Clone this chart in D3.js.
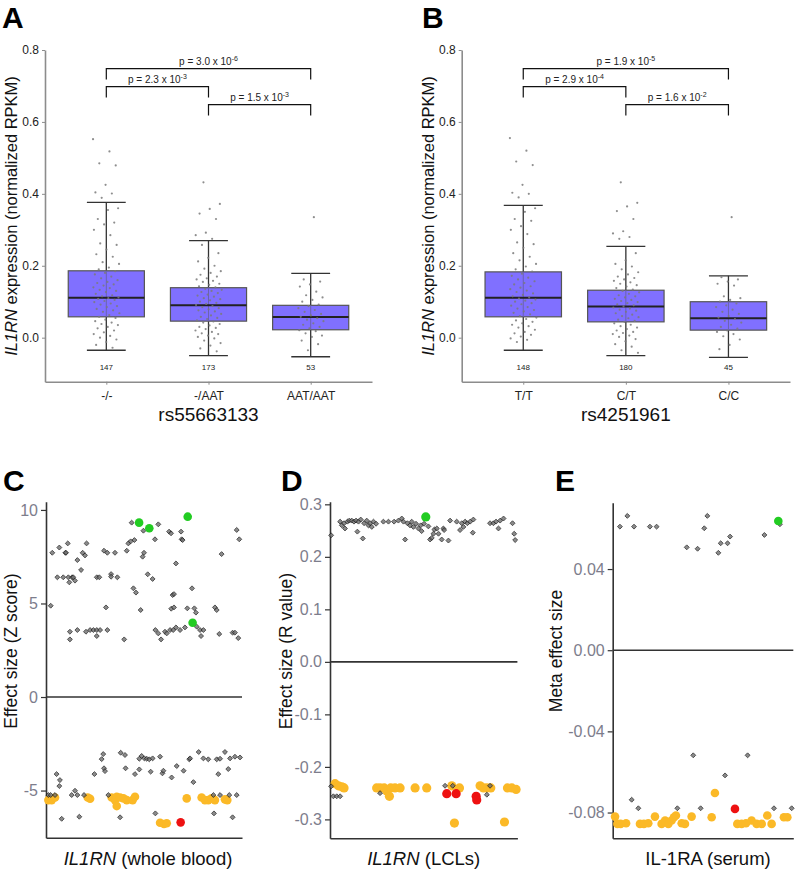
<!DOCTYPE html>
<html><head><meta charset="utf-8">
<script src="https://cdn.jsdelivr.net/npm/d3@7/dist/d3.min.js"></script>
<style>
body{margin:0;background:#fff}
text{font-family:"Liberation Sans",Arial,sans-serif}
</style></head>
<body><svg id="chart" width="800" height="872"></svg>
<script>
// ---------------- DATA ----------------
// Panel A (rs55663133)
const genoA = ["-/-", "-/AAT", "AAT/AAT"];
const nA = [147, 173, 53];
// [lower whisker, q1, median, q3, upper whisker]
const boxA = [
  [-0.035, 0.058, 0.111, 0.186, 0.376],
  [-0.050, 0.046, 0.090, 0.139, 0.270],
  [-0.053, 0.022, 0.0575, 0.090, 0.179]
];
const pointsA1 = [0.552,0.518,0.485,0.479,0.425,0.404,0.401,0.389,0.36,0.355,0.33,0.32,0.315,0.30,0.285,0.262,0.258,0.245,0.232,0.225,0.21,0.205,0.195,0.19,0.185,0.18,0.176,0.17,0.165,0.16,0.155,0.152,0.148,0.145,0.14,0.138,0.133,0.13,0.127,0.122,0.118,0.115,0.112,0.11,0.108,0.105,0.102,0.099,0.095,0.092,0.088,0.085,0.08,0.076,0.072,0.068,0.063,0.058,0.055,0.05,0.046,0.042,0.038,0.035,0.03,0.026,0.02,0.015,0.01,0.005,0.0,-0.005,-0.012,-0.02,-0.028];
const pointsA2 = [0.432,0.372,0.358,0.345,0.33,0.292,0.285,0.275,0.258,0.235,0.222,0.212,0.2,0.192,0.185,0.18,0.175,0.17,0.165,0.162,0.158,0.155,0.15,0.147,0.143,0.14,0.136,0.133,0.13,0.127,0.124,0.12,0.117,0.114,0.11,0.107,0.104,0.1,0.097,0.094,0.091,0.088,0.085,0.082,0.079,0.076,0.073,0.07,0.066,0.062,0.058,0.055,0.052,0.048,0.045,0.042,0.038,0.034,0.03,0.027,0.024,0.02,0.016,0.012,0.01,0.006,0.002,-0.002,-0.008,-0.015,-0.022,-0.03,-0.038];
const pointsA3 = [0.335,0.162,0.156,0.148,0.142,0.128,0.118,0.112,0.105,0.1,0.092,0.088,0.082,0.077,0.072,0.066,0.062,0.058,0.054,0.05,0.046,0.04,0.036,0.03,0.026,0.021,0.018,0.012,0.006,0.002,-0.008,-0.018,-0.035];
const pvalA = [
  {from:1, to:3, level:0.748, mant:"3.0", exp:"-6"},
  {from:1, to:2, level:0.698, mant:"2.3", exp:"-3"},
  {from:2, to:3, level:0.648, mant:"1.5", exp:"-3"}
];

// Panel B (rs4251961)
const genoB = ["T/T", "C/T", "C/C"];
const nB = [148, 180, 45];
const boxB = [
  [-0.035, 0.058, 0.111, 0.183, 0.368],
  [-0.050, 0.044, 0.087, 0.132, 0.254],
  [-0.055, 0.021, 0.054, 0.100, 0.172]
];
const pointsB1 = [0.555,0.52,0.49,0.48,0.425,0.403,0.4,0.39,0.36,0.35,0.33,0.325,0.31,0.3,0.288,0.265,0.26,0.25,0.235,0.225,0.215,0.205,0.198,0.19,0.184,0.178,0.172,0.167,0.162,0.157,0.152,0.148,0.143,0.139,0.135,0.131,0.127,0.123,0.119,0.115,0.112,0.109,0.106,0.103,0.1,0.096,0.093,0.089,0.085,0.081,0.077,0.073,0.069,0.065,0.06,0.056,0.052,0.048,0.044,0.04,0.036,0.032,0.028,0.022,0.016,0.012,0.008,0.003,-0.002,-0.006,-0.012];
const pointsB2 = [0.432,0.375,0.365,0.352,0.33,0.296,0.29,0.28,0.275,0.235,0.215,0.205,0.198,0.19,0.182,0.176,0.17,0.166,0.162,0.158,0.154,0.15,0.146,0.142,0.138,0.134,0.13,0.126,0.122,0.118,0.115,0.112,0.108,0.105,0.102,0.099,0.096,0.093,0.09,0.087,0.084,0.081,0.078,0.075,0.072,0.068,0.064,0.06,0.057,0.054,0.05,0.047,0.044,0.04,0.036,0.032,0.028,0.024,0.02,0.016,0.013,0.01,0.006,0.002,-0.004,-0.01,-0.018,-0.025,-0.035,-0.042];
const pointsB3 = [0.335,0.168,0.162,0.156,0.15,0.145,0.115,0.11,0.105,0.1,0.095,0.09,0.085,0.078,0.072,0.066,0.06,0.056,0.052,0.047,0.042,0.036,0.03,0.025,0.02,0.016,0.01,0.004,-0.005,-0.02,-0.032];
const pvalB = [
  {from:1, to:3, level:0.748, mant:"1.9", exp:"-5"},
  {from:1, to:2, level:0.698, mant:"2.9", exp:"-4"},
  {from:2, to:3, level:0.648, mant:"1.6", exp:"-2"}
];
const ticksAB = [0, 0.2, 0.4, 0.6, 0.8];

// Panel C: IL1RN (whole blood), [relative position, Z score]
const cBlack = [[2.4,4.88],[3.2,7.71],[6.8,7.99],[9.9,7.71],[11.1,8.21],[10.2,7.71],[5.8,6.40],[8.8,6.40],[11.4,6.40],[11.9,6.13],[13.3,6.40],[13.9,6.40],[14.8,6.22],[16.0,7.32],[17.9,6.79],[18.7,7.71],[19.9,7.57],[20.7,8.21],[12.2,3.49],[12.2,3.08],[16.0,3.58],[20.4,3.49],[22.5,3.58],[24.2,3.58],[25.9,3.58],[27.6,3.58],[25.9,3.26],[30.6,4.79],[31.3,3.58],[25.9,6.40],[27.2,6.40],[33.2,6.57],[33.2,6.43],[36.4,6.40],[29.6,7.82],[31.3,7.71],[35.2,7.71],[41.2,7.82],[42.0,8.21],[43.2,8.32],[45.1,8.39],[39.9,3.08],[44.6,5.81],[45.9,5.58],[48.3,4.65],[43.7,9.32],[49.3,7.50],[50.0,7.71],[51.9,6.56],[54.4,6.31],[55.6,8.43],[57.3,9.23],[49.7,8.89],[55.8,3.58],[57.3,3.40],[58.7,3.08],[60.7,3.49],[61.6,3.40],[63.3,3.58],[64.9,3.58],[62.8,8.84],[63.8,8.75],[64.6,5.45],[65.3,5.50],[66.3,7.14],[63.9,4.72],[65.3,4.79],[68.9,8.84],[69.2,8.43],[69.7,8.39],[66.3,3.72],[68.4,3.58],[70.9,3.72],[72.1,4.74],[74.5,5.81],[75.7,4.74],[76.5,4.51],[76.9,3.76],[78.6,3.58],[79.1,3.26],[80.3,3.58],[88.4,3.37],[89.6,7.64],[86.2,4.79],[87.1,4.65],[95.2,3.44],[96.4,3.44],[97.3,8.93],[98.6,8.43],[98.1,3.15],
  [1.2,-5.24],[2.4,-5.24],[4.6,-5.24],[5.4,-4.12],[7.1,-4.44],[6.8,-4.76],[8.0,-6.51],[13.1,-5.24],[14.8,-5.01],[16.0,-5.24],[19.4,-5.24],[17.0,-6.40],[24.7,-4.12],[28.4,-3.32],[29.2,-3.05],[29.6,-3.81],[30.1,-3.96],[31.8,-5.24],[37.8,-6.43],[38.1,-2.98],[40.3,-3.10],[40.6,-3.81],[45.4,-4.12],[47.6,-3.87],[47.6,-3.30],[48.8,-3.15],[50.2,-3.28],[51.4,-3.30],[52.7,-3.33],[54.4,-3.28],[58.2,-3.19],[53.4,-3.99],[55.8,-6.22],[59.4,-4.08],[59.9,-3.94],[64.1,-4.30],[66.7,-3.69],[70.2,-3.94],[73.1,-3.33],[73.5,-3.28],[75.2,-4.55],[77.9,-2.94],[80.3,-3.28],[82.8,-3.33],[87.1,-3.33],[88.8,-3.30],[91.3,-2.94],[87.9,-4.12],[93.0,-3.85],[93.9,-3.28],[96.4,-3.19],[99.0,-3.23],[85.4,-5.24],[88.8,-5.24],[93.5,-5.24],[97.3,-5.24],[85.7,-6.22],[95.2,-6.43]];
const cYellow = [[1.2,-5.51],[2.9,-5.51],[4.6,-5.37],[21.3,-5.37],[22.5,-5.44],[33.5,-5.37],[35.2,-5.51],[36.1,-5.83],[36.1,-5.33],[37.8,-5.37],[39.5,-5.42],[41.2,-5.51],[44.2,-5.51],[45.4,-5.33],[58.2,-6.72],[60.2,-6.79],[61.6,-6.75],[71.8,-5.42],[79.4,-5.37],[81.1,-5.51],[82.8,-5.51],[84.5,-5.42],[86.2,-5.51],[91.3,-5.47],[92.5,-5.51]];
const cGreen = [[47.5,9.32],[52.7,9.02],[72.3,9.64],[74.8,3.97]];
const cRed = [[68.7,-6.70]];
const ticksC = [-5, 0, 5, 10];

// Panel D: IL1RN (LCLs), [relative position, R value]
const dBlack = [[0.6,0.241],[5.4,0.267],[6.3,0.260],[7.5,0.264],[8.0,0.254],[9.3,0.267],[10.3,0.269],[11.6,0.269],[12.8,0.267],[13.9,0.269],[14.6,0.248],[15.2,0.267],[16.4,0.271],[17.5,0.235],[18.2,0.264],[19.6,0.269],[20.5,0.260],[21.4,0.264],[22.3,0.257],[23.2,0.267],[24.6,0.263],[28.5,0.267],[31.2,0.267],[34.2,0.267],[36.5,0.269],[38.3,0.273],[39.2,0.267],[40.1,0.233],[41.3,0.264],[42.7,0.260],[43.6,0.267],[44.5,0.257],[45.9,0.263],[47.2,0.254],[48.4,0.260],[48.9,0.249],[50.2,0.263],[52.5,0.258],[53.4,0.233],[54.3,0.236],[55.2,0.244],[55.7,0.252],[57.0,0.254],[57.9,0.244],[59.6,0.233],[60.5,0.254],[60.9,0.251],[63.2,0.231],[64.1,0.269],[67.6,0.267],[69.4,0.251],[70.3,0.264],[71.2,0.257],[72.1,0.267],[73.3,0.264],[74.8,0.267],[76.5,0.271],[76.2,0.246],[85.4,0.264],[87.2,0.264],[88.6,0.267],[89.9,0.254],[90.8,0.269],[92.6,0.273],[97.4,0.264],[98.3,0.244],[98.8,0.232],
  [0.6,-0.237],[1.8,-0.256],[3.6,-0.256],[5.4,-0.256],[26.7,-0.250],[61.4,-0.236],[65.5,-0.236],[85.4,-0.236],[83.7,-0.253]];
const dYellow = [[2.7,-0.232],[4.5,-0.236],[6.3,-0.238],[7.5,-0.240],[24.9,-0.240],[26.7,-0.240],[28.9,-0.240],[30.3,-0.246],[31.7,-0.256],[32.4,-0.240],[34.7,-0.240],[37.4,-0.240],[45.4,-0.240],[51.6,-0.240],[65.0,-0.236],[69.1,-0.240],[66.4,-0.307],[80.1,-0.236],[81.9,-0.240],[83.7,-0.240],[85.8,-0.240],[93.1,-0.305],[94.7,-0.240],[97.0,-0.240],[99.3,-0.243]];
const dGreen = [[51.1,0.276]];
const dRed = [[62.3,-0.251],[67.3,-0.251],[78.0,-0.256],[78.3,-0.263]];
const ticksD = [-0.3, -0.2, -0.1, 0.0, 0.1, 0.2, 0.3];

// Panel E: IL-1RA (serum), [relative position, meta effect size]
const eBlack = [[4.0,0.0609],[8.1,0.0662],[11.8,0.0609],[20.6,0.0609],[24.3,0.0609],[41.0,0.0507],[47.0,0.0500],[50.7,0.0601],[52.4,0.0662],[58.5,0.0480],[59.8,0.0527],[63.6,0.0527],[65.0,0.0560],[84.0,0.0568],[92.6,0.0621],
  [10.5,-0.0737],[14.2,-0.0779],[35.8,-0.0779],[44.6,-0.0518],[48.7,-0.0779],[62.2,-0.0617],[74.7,-0.0518],[89.3,-0.0779],[99.1,-0.0779]];
const eYellow = [[1.3,-0.0820],[2.6,-0.0856],[4.4,-0.0856],[7.4,-0.0853],[15.1,-0.0856],[17.3,-0.0856],[19.7,-0.0853],[23.4,-0.0820],[27.1,-0.0856],[29.0,-0.0839],[30.8,-0.0856],[32.6,-0.0839],[33.9,-0.0823],[35.0,-0.0815],[38.2,-0.0853],[40.0,-0.0856],[43.7,-0.0820],[54.8,-0.0823],[56.6,-0.0704],[69.0,-0.0856],[71.4,-0.0856],[73.8,-0.0853],[76.9,-0.0839],[79.7,-0.0856],[82.5,-0.0856],[85.6,-0.0815],[88.0,-0.0856],[94.8,-0.0823],[96.7,-0.0823]];
const eGreen = [[91.7,0.0637]];
const eRed = [[67.7,-0.0782]];
const ticksE = [-0.08, -0.04, 0.00, 0.04];

// ---------------- DRAWING ----------------
const svg = d3.select("#chart");
const BOXFILL = "#8070ff", YEL = "#fbb927", GRN = "#22cc22", RED = "#ee1111";
const hy = s => s.replace(/\u2212/g, "-");

function panelLabel(t, x, y){
  svg.append("text").attr("x", x).attr("y", y).attr("font-size", 30).attr("font-weight", "bold").attr("fill", "#000").text(t);
}

function boxPanel(o){
  const g = svg.append("g");
  const x = d3.scaleLinear().domain([0.4, 3.6]).range([o.x0, o.x1]);
  const y = d3.scaleLinear().domain([-0.1224, 0.8]).range([381.7, 50]);
  const yAx = g.append("g").attr("transform", `translate(${o.x0},0)`)
    .call(d3.axisLeft(y).tickValues(ticksAB).tickFormat(d3.format(".1f")).tickSize(3).tickSizeOuter(0));
  const xAx = g.append("g").attr("transform", `translate(0,381.7)`)
    .call(d3.axisBottom(x).tickValues([1,2,3]).tickFormat(i => o.geno[i-1]).tickSize(3).tickSizeOuter(0));
  [yAx, xAx].forEach(a => {
    a.select(".domain").attr("stroke", "#8c8c8c").attr("stroke-width", 1.6);
    a.selectAll(".tick line").attr("stroke", "#8c8c8c");
    a.selectAll(".tick text").attr("font-size", 12).attr("fill", "#222").attr("font-family", "Liberation Sans, Arial, sans-serif");
  });
  xAx.selectAll(".tick text").attr("dy", "1.05em");
  const bw = 0.745, cw = 0.38;
  o.box.forEach((b, i) => {
    const c = i + 1;
    [b[0], b[4]].forEach(v => g.append("line").attr("x1", x(c - cw/2)).attr("x2", x(c + cw/2))
      .attr("y1", y(v)).attr("y2", y(v)).attr("stroke", "#333").attr("stroke-width", 1.3));
    g.append("line").attr("x1", x(c)).attr("x2", x(c)).attr("y1", y(b[4])).attr("y2", y(b[3])).attr("stroke", "#333").attr("stroke-width", 1.3);
    g.append("line").attr("x1", x(c)).attr("x2", x(c)).attr("y1", y(b[1])).attr("y2", y(b[0])).attr("stroke", "#333").attr("stroke-width", 1.3);
    g.append("rect").attr("x", x(c - bw/2)).attr("width", x(c + bw/2) - x(c - bw/2))
      .attr("y", y(b[3])).attr("height", y(b[1]) - y(b[3]))
      .attr("fill", BOXFILL).attr("stroke", "#555").attr("stroke-width", 1.2);
    g.append("line").attr("x1", x(c)).attr("x2", x(c)).attr("y1", y(b[3])).attr("y2", y(b[1])).attr("stroke", "#6a62b0").attr("stroke-width", 1);
    g.append("line").attr("x1", x(c - bw/2)).attr("x2", x(c + bw/2)).attr("y1", y(b[2])).attr("y2", y(b[2])).attr("stroke", "#222").attr("stroke-width", 2);
    // jittered points (deterministic low-discrepancy spread)
    o.pts[i].forEach((v, k) => {
      const off = (((k * 0.618034 + i * 0.31) % 1) - 0.5) * 0.26;
      g.append("circle").attr("cx", x(c + off)).attr("cy", y(v)).attr("r", 1.1)
        .attr("fill", "#7a7a7a").attr("fill-opacity", 0.85);
    });
    g.append("text").attr("x", x(c)).attr("y", 369.5).attr("text-anchor", "middle").attr("font-size", 8).attr("fill", "#222").text(o.n[i]);
  });
  const drop = 0.03;
  o.pv.forEach(p => {
    const x1 = x(p.from), x2 = x(p.to);
    g.append("path").attr("d", `M${x1},${y(p.level - drop)}V${y(p.level)}H${x2}V${y(p.level - drop)}`)
      .attr("fill", "none").attr("stroke", "#111").attr("stroke-width", 1.2);
    const t = g.append("text").attr("x", (x1 + x2)/2).attr("y", y(p.level) - 4).attr("text-anchor", "middle")
      .attr("font-size", 10).attr("fill", "#222");
    t.append("tspan").text(`p = ${p.mant} x 10`);
    t.append("tspan").attr("dy", -4).attr("font-size", 7).text(p.exp);
  });
  const yt = g.append("text").attr("transform", `translate(${o.ytx},216) rotate(-90)`).attr("text-anchor", "middle")
    .attr("font-size", 16.5).attr("fill", "#111");
  yt.append("tspan").attr("font-style", "italic").text("IL1RN");
  yt.append("tspan").text(" expression (normalized RPKM)");
  g.append("text").attr("x", x(2)).attr("y", 421).attr("text-anchor", "middle").attr("font-size", 19).attr("fill", "#111").text(o.snp);
}

boxPanel({x0: 45, x1: 372, geno: genoA, n: nA, box: boxA, pts: [pointsA1, pointsA2, pointsA3], pv: pvalA, ytx: 17, snp: "rs55663133"});
boxPanel({x0: 461.7, x1: 790, geno: genoB, n: nB, box: boxB, pts: [pointsB1, pointsB2, pointsB3], pv: pvalB, ytx: 434, snp: "rs4251961"});
panelLabel("A", 2, 27.5);
panelLabel("B", 422, 27.5);

function scatterPanel(o){
  const g = svg.append("g");
  const x = d3.scaleLinear().domain([0, 100]).range([o.x0, o.x1]);
  const y = d3.scaleLinear().domain(o.ydom).range([o.yb, o.yt]);
  const yAx = g.append("g").attr("transform", `translate(${o.x0},0)`)
    .call(d3.axisLeft(y).tickValues(o.ticks).tickFormat(v => hy(d3.format(o.fmt)(v))).tickSize(5).tickSizeOuter(0).tickPadding(3));
  const xAx = g.append("g").attr("transform", `translate(0,${o.yb})`)
    .call(d3.axisBottom(x).tickValues([]).tickSizeOuter(0));
  [yAx, xAx].forEach(a => {
    a.select(".domain").attr("stroke", "#333").attr("stroke-width", 1.6);
    a.selectAll(".tick line").attr("stroke", "#333").attr("stroke-width", 1.2);
    a.selectAll(".tick text").attr("font-size", 16).attr("fill", "#7d7d8c").attr("font-family", "Liberation Sans, Arial, sans-serif");
  });
  g.append("line").attr("x1", o.x0).attr("x2", o.x1).attr("y1", y(0)).attr("y2", y(0)).attr("stroke", "#333").attr("stroke-width", 1.6);
  g.selectAll(".yel").data(o.yel).join("circle").attr("cx", d => x(d[0])).attr("cy", d => y(d[1])).attr("r", o.rc).attr("fill", YEL);
  const sq = d3.symbol().type(d3.symbolSquare).size(12);
  g.selectAll(".blk").data(o.blk).join("path").attr("d", sq)
    .attr("transform", d => `translate(${x(d[0])},${y(d[1])}) rotate(45)`)
    .attr("fill", "#6e6e6e").attr("stroke", "#1e1e1e").attr("stroke-width", 0.9).attr("opacity", 0.8);
  g.selectAll(".grn").data(o.grn).join("circle").attr("cx", d => x(d[0])).attr("cy", d => y(d[1])).attr("r", o.rc).attr("fill", GRN);
  g.selectAll(".red").data(o.red).join("circle").attr("cx", d => x(d[0])).attr("cy", d => y(d[1])).attr("r", o.rc).attr("fill", RED);
  g.append("text").attr("transform", `translate(${o.ytx},651) rotate(-90)`).attr("text-anchor", "middle")
    .attr("font-size", 17.5).attr("fill", "#111").text(o.ytitle);
  const xt = g.append("text").attr("x", (o.x0 + o.x1)/2 + o.xtOff).attr("y", 865).attr("text-anchor", "middle").attr("font-size", 18.5).attr("fill", "#111");
  if (o.italic) xt.append("tspan").attr("font-style", "italic").text(o.italic);
  xt.append("tspan").text(o.xtitle);
}

scatterPanel({x0: 46, x1: 242, ydom: [-7.52, 10.44], yb: 837.7, yt: 501.7, ticks: ticksC, fmt: "d",
  blk: cBlack, yel: cYellow, grn: cGreen, red: cRed, rc: 4.3, ytx: 17, ytitle: "Effect size (Z score)",
  italic: "IL1RN", xtitle: " (whole blood)", xtOff: 4});
scatterPanel({x0: 330, x1: 517.4, ydom: [-0.336, 0.305], yb: 838.3, yt: 501.7, ticks: ticksD, fmt: ".1f",
  blk: dBlack, yel: dYellow, grn: dGreen, red: dRed, rc: 4.6, ytx: 292, ytitle: "Effect size (R value)",
  italic: "IL1RN", xtitle: " (LCLs)", xtOff: 0});
scatterPanel({x0: 612.7, x1: 793.3, ydom: [-0.0927, 0.0727], yb: 838.3, yt: 502.7, ticks: ticksE, fmt: ".2f",
  blk: eBlack, yel: eYellow, grn: eGreen, red: eRed, rc: 4.3, ytx: 562, ytitle: "Meta effect size",
  italic: null, xtitle: "IL-1RA (serum)", xtOff: 5});
panelLabel("C", 3, 491);
panelLabel("D", 281, 491);
panelLabel("E", 555, 491);
</script>
</body></html>
